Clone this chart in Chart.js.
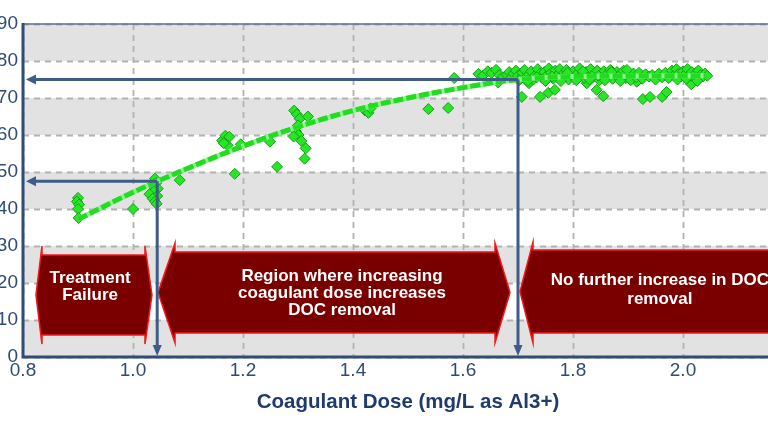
<!DOCTYPE html>
<html lang="en">
<head>
<meta charset="UTF-8">
<title>DOC removal vs coagulant dose</title>
<script src="https://cdn.jsdelivr.net/npm/chart.js"></script>
<style>
  body, html {
    margin: 0;
    height: 100%;
    background: #fff;
    overflow: hidden;
  }
  .wrap {
    position: absolute;
    left: -30px; /* the source image is cropped on the left */
    top: 0;
  }
</style>
</head>
<body>
<div class="wrap"><canvas id="doseChart" width="860" height="432"></canvas></div>
<script>
// measured points (dose in mg/L as Al3+, DOC removal in %)
const doseValues = [
  0.900, 0.898, 0.902, 0.900, 0.901, 1.000,
  1.040, 1.042, 1.036, 1.045, 1.038, 1.030, 1.044, 1.036, 1.040, 1.043, 1.085,
  1.162, 1.168, 1.175, 1.172, 1.165, 1.196, 1.185, 1.249, 1.262,
  1.293, 1.298, 1.303, 1.300, 1.296, 1.301, 1.306, 1.314, 1.312, 1.318, 1.292,
  1.422, 1.428, 1.432, 1.537, 1.573, 1.584,
  1.628, 1.636, 1.645, 1.652, 1.660, 1.666, 1.672, 1.664,
  1.707, 1.720, 1.740, 1.755, 1.767, 1.825, 1.843, 1.855, 1.916, 1.927, 1.940, 1.962, 1.970, 2.015,
  1.680, 1.684, 1.688, 1.692, 1.696, 1.700, 1.704, 1.708, 1.712, 1.716,
  1.720, 1.724, 1.728, 1.732, 1.736, 1.740, 1.744, 1.748, 1.752, 1.756,
  1.760, 1.764, 1.768, 1.772, 1.776, 1.780, 1.784, 1.788, 1.792, 1.796,
  1.800, 1.804, 1.808, 1.812, 1.816, 1.820, 1.824, 1.828, 1.832, 1.836,
  1.840, 1.844, 1.848, 1.852, 1.856, 1.860, 1.864, 1.868, 1.872, 1.876,
  1.880, 1.884, 1.888, 1.892, 1.896, 1.900, 1.905, 1.910, 1.915, 1.920,
  1.926, 1.932, 1.938, 1.944, 1.950, 1.956, 1.962, 1.968, 1.974, 1.980,
  1.984, 1.988, 1.992, 1.996, 2.000, 2.004, 2.008, 2.012, 2.016, 2.020,
  2.024, 2.028, 2.032, 2.036, 2.040, 2.044,
  1.702, 1.718, 1.734, 1.750, 1.762, 1.778, 1.790, 1.806, 1.818, 1.830,
  1.846, 1.858, 1.870, 1.886, 1.898, 1.990, 2.006, 2.026
];
const docRemoval = [
  43.0, 42.0, 41.2, 40.0, 37.6, 40.0,
  48.2, 47.0, 46.2, 45.5, 44.8, 44.0, 43.5, 42.8, 42.0, 41.4, 47.8,
  58.5, 59.8, 59.5, 57.2, 57.8, 57.5, 49.5, 58.2, 51.4,
  66.6, 65.6, 64.4, 62.6, 61.0, 60.0, 58.4, 56.4, 53.6, 65.0, 59.6,
  66.6, 66.0, 67.2, 67.0, 67.3, 75.4,
  76.5, 76.0, 77.2, 76.8, 77.6, 76.2, 75.6, 74.2,
  70.3, 74.0, 70.3, 71.4, 72.2, 74.0, 72.2, 70.5, 74.4, 69.7, 70.3, 70.3, 71.6, 73.7,
  76.2, 77.0, 75.5, 76.6, 77.4, 76.0, 75.2, 76.8, 77.6, 75.8,
  76.4, 77.2, 75.0, 76.2, 77.8, 76.6, 75.4, 77.0, 76.0, 78.0,
  76.8, 75.2, 77.4, 76.2, 77.8, 75.6, 76.8, 77.6, 75.0, 76.4,
  77.2, 75.8, 76.6, 78.0, 76.2, 75.4, 77.0, 76.6, 77.8, 75.6,
  76.8, 77.4, 74.8, 76.2, 77.2, 75.6, 76.8, 77.6, 75.2, 76.4,
  77.0, 75.8, 76.6, 77.4, 75.4, 76.2, 74.8, 76.6, 75.6, 76.8,
  75.2, 76.4, 75.8, 76.2, 75.0, 76.6, 75.6, 76.8, 75.4, 77.4,
  76.2, 77.8, 76.6, 75.8, 77.2, 76.4, 77.8, 76.0, 77.0, 75.6,
  76.8, 77.4, 76.2, 75.8, 76.6, 76.0,
  74.8, 74.6, 75.6, 74.6, 75.8, 74.6, 76.8, 74.8, 77.2, 75.0,
  76.0, 74.8, 77.0, 74.6, 77.6, 75.0, 75.2, 74.6
];

// fitted trend line
const fitDose = [0.9, 1.0, 1.1, 1.2, 1.3, 1.4, 1.5, 1.6, 1.7, 1.8, 1.9, 2.0, 2.04];
const fitRemoval = [37.2, 44.5, 51.0, 57.0, 62.2, 66.6, 70.0, 72.8, 75.0, 75.8, 75.9, 76.0, 76.0];

// guide arrows: dose where the curve reaches the removal level
const guideDose = [1.044, 1.7];
const guideRemoval = [47.5, 75];

const regionText = [
  ['Treatment', 'Failure'],
  ['Region where increasing', 'coagulant dose increases', 'DOC removal'],
  ['No further increase in DOC', 'removal']
];

// arrow-shaped boxes, in axis units
const regionBoxes = [
  { tipL: 0.8236, baseL: 0.8345, baseR: 1.0218, tipR: 1.0345, top: 27.6, bot: 5.95, flareTop: 30.0, flareBot: 3.5, cx: 0.922, lines: [21.2, 16.6] },
  { tipL: 1.0455, baseL: 1.0764, baseR: 1.6582, tipR: 1.6855, top: 28.4, bot: 6.5, flareTop: 30.8, flareBot: 3.8, cx: 1.38, lines: [21.8, 17.2, 12.5] },
  { tipL: 1.7036, baseL: 1.7273, baseR: 2.19, tipR: 2.22, top: 28.9, bot: 6.5, flareTop: 31.1, flareBot: 3.8, cx: 1.958, lines: [20.6, 15.7] }
];

const FONT = "Arial, 'Liberation Sans', sans-serif";
const AXIS_BLUE = '#2f4d7b';
const ARROW_BLUE = '#3e5c88';

const points = doseValues.map((x, i) => ({ x: x, y: docRemoval[i] }));
const fitPoints = fitDose.map((x, i) => ({ x: x, y: fitRemoval[i] }));

// gray bands and dashed grid under the data
const bandsPlugin = {
  id: 'bands',
  beforeDatasetsDraw(chart) {
    const { ctx, chartArea: a, scales: { x, y } } = chart;
    ctx.save();
    ctx.fillStyle = '#e2e2e2';
    for (let v = 0; v < 90; v += 20) {
      const y1 = y.getPixelForValue(v + 10);
      const y0 = y.getPixelForValue(v);
      ctx.fillRect(a.left, y1, a.right - a.left, y0 - y1);
    }
    ctx.strokeStyle = '#b2b2b2';
    ctx.lineWidth = 1.8;
    ctx.setLineDash([6, 5]);
    ctx.beginPath();
    y.ticks.forEach(t => {
      const gy = Math.round(y.getPixelForValue(t.value)) + 0.5;
      ctx.moveTo(a.left, gy);
      ctx.lineTo(a.right, gy);
    });
    x.ticks.forEach(t => {
      const gx = Math.round(x.getPixelForValue(t.value)) + 0.5;
      ctx.moveTo(gx, a.top);
      ctx.lineTo(gx, a.bottom);
    });
    ctx.stroke();
    ctx.restore();
  }
};

const overlayPlugin = {
  id: 'overlay',
  afterDatasetsDraw(chart) {
    const { ctx, chartArea: a, scales: { x, y } } = chart;
    const px = v => x.getPixelForValue(v);
    const py = v => y.getPixelForValue(v);
    ctx.save();

    // region boxes
    regionBoxes.forEach((b, k) => {
      const mid = py((b.top + b.bot) / 2);
      ctx.beginPath();
      ctx.moveTo(px(b.tipL), mid);
      ctx.lineTo(px(b.baseL), py(b.flareTop));
      ctx.lineTo(px(b.baseL), py(b.top));
      ctx.lineTo(px(b.baseR), py(b.top));
      ctx.lineTo(px(b.baseR), py(b.flareTop));
      ctx.lineTo(px(b.tipR), mid);
      ctx.lineTo(px(b.baseR), py(b.flareBot));
      ctx.lineTo(px(b.baseR), py(b.bot));
      ctx.lineTo(px(b.baseL), py(b.bot));
      ctx.lineTo(px(b.baseL), py(b.flareBot));
      ctx.closePath();
      ctx.fillStyle = '#7a0000';
      ctx.fill();
      ctx.lineWidth = 1.5;
      ctx.strokeStyle = '#f01818';
      ctx.stroke();

      ctx.fillStyle = '#fff';
      ctx.font = 'bold 17px ' + FONT;
      ctx.textAlign = 'center';
      ctx.textBaseline = 'middle';
      regionText[k].forEach((t, j) => ctx.fillText(t, px(b.cx), py(b.lines[j])));
    });

    // guide arrows
    ctx.strokeStyle = ARROW_BLUE;
    ctx.fillStyle = ARROW_BLUE;
    ctx.lineWidth = 3;
    guideDose.forEach((d, i) => {
      const gx = px(d), gy = py(guideRemoval[i]);
      ctx.beginPath();
      ctx.moveTo(gx, gy);
      ctx.lineTo(a.left + 10, gy);
      ctx.moveTo(gx, gy);
      ctx.lineTo(gx, a.bottom - 10);
      ctx.stroke();
      ctx.beginPath();
      ctx.moveTo(a.left + 3, gy);
      ctx.lineTo(a.left + 13, gy - 5);
      ctx.lineTo(a.left + 13, gy + 5);
      ctx.closePath();
      ctx.fill();
      ctx.beginPath();
      ctx.moveTo(gx, a.bottom - 1);
      ctx.lineTo(gx - 4.5, a.bottom - 12);
      ctx.lineTo(gx + 4.5, a.bottom - 12);
      ctx.closePath();
      ctx.fill();
    });

    // axis frame
    ctx.strokeStyle = '#5b7196';
    ctx.lineWidth = 1.5;
    ctx.beginPath();
    ctx.moveTo(a.left, a.top);
    ctx.lineTo(a.right, a.top);
    ctx.stroke();
    ctx.strokeStyle = AXIS_BLUE;
    ctx.lineWidth = 3;
    ctx.beginPath();
    ctx.moveTo(a.left, a.top - 1);
    ctx.lineTo(a.left, a.bottom);
    ctx.lineTo(a.right, a.bottom);
    ctx.stroke();
    ctx.restore();
  }
};

new Chart(document.getElementById('doseChart'), {
  type: 'scatter',
  data: {
    datasets: [{
      label: 'Measured',
      data: points,
      order: 3,
      pointStyle: 'rectRot',
      pointRadius: 5.5,
      backgroundColor: '#26e626',
      borderColor: '#179e17',
      borderWidth: 1
    }, {
      label: 'Fit',
      data: fitPoints,
      order: 2,
      showLine: true,
      tension: 0.4,
      pointRadius: 0,
      borderColor: '#8af58a',
      borderWidth: 5
    }, {
      label: 'Fit dash',
      data: fitPoints,
      order: 1,
      showLine: true,
      tension: 0.4,
      pointRadius: 0,
      borderColor: '#22dc22',
      borderWidth: 5,
      borderDash: [10, 3]
    }]
  },
  options: {
    responsive: false,
    animation: false,
    layout: { padding: { left: 0, right: 37, top: 24, bottom: 0 } },
    plugins: {
      legend: { display: false },
      tooltip: { enabled: false }
    },
    scales: {
      x: {
        type: 'linear',
        min: 0.8,
        max: 2.2,
        afterFit: s => { s.height = 75; },
        ticks: {
          stepSize: 0.2,
          padding: 2,
          color: '#2e4b78',
          font: { family: FONT, size: 19 },
          callback: v => v.toFixed(1)
        },
        grid: { display: false, drawTicks: false },
        border: { display: false },
        title: {
          display: true,
          text: 'Coagulant Dose (mg/L as Al3+)',
          color: '#1f3b6b',
          font: { family: FONT, size: 20.5, weight: 'bold' },
          padding: { top: 0, bottom: 17 }
        }
      },
      y: {
        min: 0,
        max: 90,
        afterFit: s => { s.width = 53; },
        ticks: {
          stepSize: 10,
          padding: 5,
          color: '#2e4b78',
          font: { family: FONT, size: 19 }
        },
        grid: { display: false, drawTicks: false },
        border: { display: false }
      }
    }
  },
  plugins: [bandsPlugin, overlayPlugin]
});
</script>
</body>
</html>
